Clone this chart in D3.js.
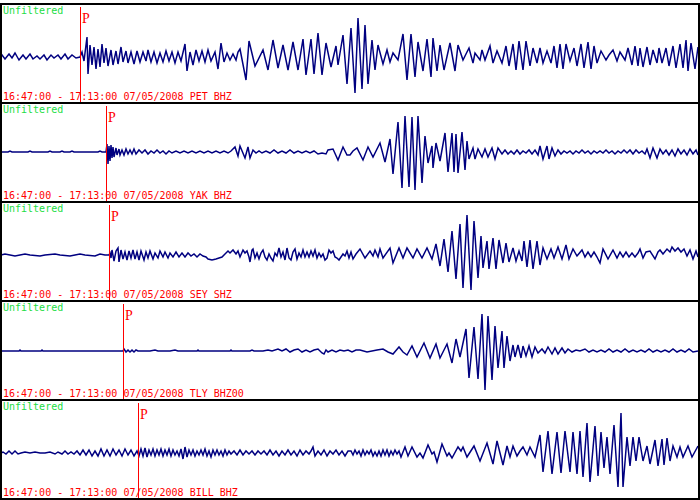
<!DOCTYPE html>
<meta charset="utf-8">
<html>
<head>
<script src="https://cdn.jsdelivr.net/npm/d3@7"></script>
<style>
  body { margin: 0; background: #fff; }
  text { font-family: "DejaVu Sans Mono", monospace; font-size: 10px; }
</style>
</head>
<body>
<svg id="seis" width="700" height="500"></svg>
<script>

// record info
var stations = ["PET BHZ", "YAK BHZ", "SEY SHZ", "TLY BHZ00", "BILL BHZ"];
var timeWindow = "16:47:00 - 17:13:00";
var recordDate = "07/05/2008";
var filterLabel = "Unfiltered";
// P arrival, sample index (~2.23 s per sample over the 26 min window)
var pPicks = [80, 106, 109, 123, 138];
var dcOffsets = [0, 4, 0, 3, 0];

// traces: [sample, counts] at the extremes
var petTrace = [[1,0],[2,2],[5,-2],[9,3],[12,-1],[15,4],[19,-3],[23,2],[26,-2],[30,3],[33,-2],[37,1],[40,-2],[44,2],[47,-3],[51,2],[54,-1],[58,2],[61,-2],[65,3],[68,-2],[72,2],[76,-1],[80,0],
  [82,5],[84,-4],[87,20],[88,-17],[90,12],[92,-8],[94,10],[96,-12],[98,8],[100,-10],[102,13],[104,-6],[106,9],[108,-9],[111,7],[113,-8],[116,6],[118,-7],[121,10],[123,-5],[126,6],[128,-6],[131,5],[134,-7],[137,6],[140,-5],[143,5],
  [146,-4],[148,7],[151,-5],[154,5],[157,-6],[160,4],[163,-5],[166,6],[169,-4],[172,5],[175,-6],[178,5],[181,-4],[185,13],[187,-14],[190,5],[193,-8],[196,7],[199,-4],[202,6],[205,-5],[208,7],[211,-4],[215,5],[218,-12],[221,14],[224,-5],[227,4],[230,-3],[233,3],[236,-3],[238,5],
  [240,8],[246,-23],[249,16],[255,-9],[263,7],[268,-13],[273,17],[278,-11],[283,12],[288,-13],[293,15],[298,-13],[303,18],[306,-18],[311,18],[314,-17],[318,24],[322,-18],[326,14],[331,-10],[336,11],[338,-8],[343,22],[347,-27],[351,29],[355,-36],[358,39],[362,-32],[365,32],[368,-27],[372,17],[375,-13],[378,12],[383,-7],[387,7],[390,-5],[393,4],[398,-3],[403,23],[407,-23],[411,23],[415,-20],[418,15],[423,-14],[427,18],[431,-20],[433,19],[437,-14],[440,12],[444,-13],[450,14],[455,-14],[458,12],[463,-3],[466,3],[469,9],
  [473,-6],[475,4],[480,-3],[482,7],[485,-3],[490,11],[493,-6],[497,6],[502,-6],[506,11],[509,-9],[513,13],[516,-13],[519,16],[523,-13],[526,16],[530,-9],[533,9],[537,-6],[540,9],[543,-6],[547,6],[551,-6],[554,11],[557,-11],[560,13],[563,-12],[566,13],[570,-4],[574,9],[577,-9],[581,13],[584,-11],[588,15],[591,-12],[594,11],[597,-6],[601,6],[606,-3],[609,2],[613,7],[617,-4],[620,5],[625,-3],[628,9],[632,-8],[635,11],[638,-9],[640,9],[643,-10],[647,10],[650,-8],[653,7],[657,-6],[659,9],[662,-6],[666,9],[669,-9],[673,11],[676,-11],[680,13],[683,-11],[686,17],[688,-14],[691,14],[695,-12],[698,10]];

var yakTrace = [[1,0],[8,0],[10,1],[12,0],[28,0],[30,1],[32,0],[48,0],[50,1],[52,0],[60,0],[62,1],[64,0],[70,0],[72,1],[74,0],[98,0],[100,1],[102,0],[106,0],
  [107,8],[108,-12],[109,6],[110,-9],[111,7],[112,-6],[113,5],[114,-5],[116,4],[117,-3],[119,3],[120,-3],[122,2],[124,-3],[126,3],[128,-2],[130,2],[132,-2],[134,3],[136,-2],[139,2],[142,-1],[145,2],[148,-2],[151,1],[154,-1],[157,2],[160,-1],[163,1],[166,-2],[169,1],[172,-1],[176,1],[180,-1],[184,1],[188,-1],[192,1],[196,-1],[200,1],[204,-1],[208,1],[212,-1],[216,1],[220,-1],[224,1],[228,-1],[231,1],
  [235,5],[238,-4],[240,6],[245,-6],[248,5],[250,-6],[253,2],[256,-1],[259,1],[262,-1],[266,1],[270,-1],[274,2],[278,-1],[282,1],[286,-1],[290,2],[294,-1],[298,1],[302,-1],[306,1],[310,-1],[314,1],[318,-2],[322,-1],[326,-2],[328,2],[333,3],[338,-8],[343,5],[347,-3],[350,-3],[353,1],
  [357,4],[363,-8],[368,5],[373,-5],[380,9],[385,-10],[390,13],[393,-22],[398,30],[402,-36],[405,36],[409,-35],[412,35],[415,-38],[418,36],[422,-31],[425,16],[428,-11],[432,6],[433,-16],[436,9],[440,-9],[445,19],[448,-20],[452,19],[454,-20],[456,18],[458,-21],[462,20],[465,-18],[467,11],[469,-7],[473,4],[475,-7],[478,3],[482,-5],[485,3],[488,-5],[492,4],[495,-7],[498,4],[502,-2],
  [505,2],[508,-2],[511,1],[514,-2],[517,2],[520,-2],[523,1],[526,-1],[529,2],[532,-2],[535,2],[538,-3],[540,6],[543,-7],[547,6],[549,-7],[552,4],[555,-4],[558,2],[561,-2],[564,1],[567,-1],[570,1],[573,-2],[576,1],[579,-1],[582,2],[585,-1],[588,1],[591,-2],[594,1],[597,-1],[600,1],[603,-1],[606,2],[609,-1],[612,1],[615,-2],[618,1],[621,-1],[624,2],[627,-1],[630,2],[633,-2],[636,2],[639,-1],[642,1],[645,-2],
  [647,3],[650,-6],[653,4],[657,-6],[660,3],[663,-2],[666,2],[669,-3],[672,2],[675,-4],[678,3],[681,-2],[684,2],[687,-3],[690,3],[693,-2],[696,2],[698,-3]];

var seyTrace = [[1,0],[5,1],[10,0],[15,-1],[20,0],[25,1],[30,0],[40,-1],[45,0],[55,1],[60,0],[70,-1],[75,0],[80,1],[85,0],[95,-1],[100,1],[105,0],[109,0],
  [110,2],[111,-3],[112,5],[114,-6],[116,4],[118,7],[119,-7],[121,5],[123,-4],[125,3],[127,-5],[129,4],[131,-3],[133,5],[135,-4],[137,3],[139,-5],[141,4],[144,-5],[146,3],[148,-3],[150,4],[153,-4],[155,2],[158,-3],[160,4],[163,-2],[165,3],[168,-3],[170,2],[173,-2],[176,3],[179,-2],[182,2],[185,-2],[188,2],[191,-1],[194,1],[197,-2],[200,1],[203,-1],[206,-2],
  [208,-4],[212,-5],[216,-4],[219,-3],[222,-2],[225,1],[228,4],[230,2],[233,5],[236,1],[238,4],[240,-2],[243,5],[245,2],[247,4],[249,-2],[250,-7],[252,5],[253,6],[255,-3],[257,2],[259,-4],[261,2],[263,5],[265,-2],[267,-5],[269,1],[271,-3],[273,-6],[275,2],[277,-1],[279,7],[281,-2],[283,3],[285,-5],[287,7],[289,-3],[291,-5],[293,3],[295,6],[297,-4],[299,2],[301,-2],[303,5],[305,-2],[307,3],[309,-2],[311,4],[313,-1],[315,5],[317,-3],[319,2],[321,-2],[323,1],[325,-5],[327,-3],[329,5],[331,2],[333,4],[335,-2],[337,-3],[339,-5],[341,-2],[343,1],[345,-1],[347,4],[349,-3],[351,3],[353,-4],[356,1],
  [360,6],[365,-3],[370,4],[373,-1],[375,5],[378,-2],[380,6],[383,-3],[390,7],[393,-8],[399,7],[403,-3],[407,7],[413,-3],[417,6],[422,-3],[427,7],[432,-4],[436,11],[440,-11],[444,16],[448,-17],[452,24],[456,-24],[460,31],[463,-33],[467,40],[471,-35],[474,34],[478,-23],[481,19],[483,-13],[487,14],[489,-14],[493,17],[496,-14],[499,15],[503,-8],[506,12],[509,-7],[513,7],[516,-6],[519,4],[522,-6],[524,14],[527,-12],[530,15],[533,-14],[537,14],[540,-10],[543,7],[547,-4],[551,6],[554,-3],[558,8],[562,-4],[566,10],[569,-4],[573,6],[577,-1],[582,5],[585,-2],
  [588,3],[591,-2],[594,3],[597,-2],[600,-8],[603,6],[608,-4],[613,5],[617,-3],[620,3],[623,-2],[626,3],[629,-2],[632,2],[635,-2],[638,2],[640,6],[643,-3],[646,3],[650,4],[655,-4],[658,3],[660,5],[663,1],[667,6],[670,3],[672,8],[675,4],[678,7],[681,3],[684,6],[687,-1],[690,5],[693,-4],[696,4],[698,-2]];

var tlyTrace = [[1,0],[19,0],[20,1],[21,0],[41,0],[42,1],[43,0],[123,0],[124,2],[126,-1],[128,1],[130,-1],[132,1],[134,-1],[136,1],[138,0],[150,0],[155,1],[158,0],[170,0],[175,1],[178,0],[197,0],[198,1],[199,0],[230,0],[231,1],[232,0],[250,0],[252,1],[254,0],[263,0],[268,1],[272,0],[278,2],[282,0],[286,2],[290,-1],[294,1],[298,2],[302,-1],[306,1],[310,-1],[314,1],[318,2],[322,-2],[324,-3],[326,1],[328,-1],[332,1],[336,-1],[340,1],[344,0],[348,1],[352,-1],[356,1],
  [360,1],[367,-1],[377,1],[383,2],[388,-1],[393,-3],[399,4],[403,-1],[407,-4],[412,5],[417,-6],[424,8],[430,-7],[436,7],[440,-7],[447,7],[452,-12],[456,12],[460,-6],[466,22],[469,-27],[474,24],[478,-28],[482,37],[485,-39],[488,35],[492,-29],[495,25],[498,-17],[502,20],[504,-17],[507,15],[510,-10],[513,6],[515,-6],[518,6],[521,-7],[523,5],[526,-5],[529,5],[532,-6],[535,4],[538,-2],[542,2],[545,-2],[548,4],[552,-3],[555,3],[558,-3],[562,3],[565,-2],[568,2],
  [572,-1],[576,1],[580,0],[585,2],[589,-1],[593,1],[597,-1],[601,1],[605,-1],[609,2],[613,-1],[617,1],[621,-1],[625,2],[629,-1],[633,1],[637,-1],[641,1],[645,-1],[649,2],[653,-1],[657,1],[661,-1],[665,1],[669,-1],[673,2],[677,-1],[681,1],[685,-1],[689,2],[693,-1],[698,0]];

var billTrace = [[1,0],[3,1],[6,-1],[9,2],[12,-1],[15,2],[18,-1],[21,0],[25,1],[30,0],[35,1],[40,0],[45,0],[50,1],[55,-1],[58,1],[62,-1],[65,2],[68,-1],[71,1],[74,-1],[77,2],[80,-2],[83,3],[86,-2],[89,3],[92,-3],[95,2],[98,-3],[101,4],[104,-3],[107,3],[110,-3],[113,4],[116,-2],[119,3],[122,-3],[125,4],[128,-2],[131,3],[134,-3],[137,2],
  [139,-3],[141,4],[143,-3],[145,5],[147,-4],[149,3],[151,-2],[153,4],[155,-3],[157,3],[159,-2],[161,4],[163,-3],[165,3],[167,-2],[169,4],[171,-3],[173,3],[175,-2],[177,2],[179,-3],[181,4],[183,-6],[185,6],[187,-4],[189,3],[191,-2],[193,3],[195,-3],[197,2],[199,-2],[201,3],[203,-2],[205,4],[207,-3],[209,2],[211,-4],[213,3],[215,-2],[217,3],[219,-2],[221,2],[223,-3],[225,3],[227,-2],[229,2],[231,-1],[234,2],[237,-2],[240,3],[243,-2],[246,2],[249,-1],[252,2],[255,-2],[258,2],[261,-1],[264,2],[267,-2],[270,3],[273,-2],[276,2],[279,-3],[282,2],[285,-2],[288,3],[291,-2],[294,2],[297,-3],[300,3],[303,-2],[306,2],[309,-1],[311,2],[313,6],[315,-3],[318,2],[321,-2],[324,3],[327,-3],[330,2],[333,-1],[336,3],[339,-2],[342,2],[345,-3],[348,2],
  [351,2],[353,-2],[355,3],[357,-1],[359,2],[361,-3],[363,3],[365,-2],[367,2],[369,-1],[371,3],[373,-3],[375,1],[377,-3],[379,2],[381,-3],[383,3],[385,-2],[387,3],[389,-3],[391,2],[393,-2],[395,3],[397,-1],[399,2],[401,-4],[403,1],[405,6],[408,-3],[412,6],[417,-4],[420,0],[423,-5],[428,8],[432,-1],[434,1],[437,-9],[442,9],[447,-3],[449,0],[452,-5],[458,6],[461,2],[463,6],[467,-4],[474,7],[480,-8],[487,10],[493,-11],[497,12],[503,-12],[507,7],[510,-4],[513,7],[517,-3],[520,2],[523,6],[527,-2],[530,6],[535,-4],
  [540,18],[543,-19],[548,22],[552,-21],[557,21],[561,-20],[565,22],[570,-19],[573,21],[577,-21],[580,22],[583,-24],[587,30],[590,-29],[595,27],[598,-23],[601,21],[604,-15],[607,16],[610,-21],[614,28],[618,-34],[621,40],[623,-34],[627,16],[630,-13],[633,16],[636,-8],[639,16],[643,-8],[647,7],[650,-11],[655,13],[658,-13],[662,14],[664,-12],[667,15],[670,-8],[673,7],[677,-4],[680,6],[683,-4],[688,7],[692,-4],[698,7]];

var traces = [petTrace, yakTrace, seyTrace, tlyTrace, billTrace];

var svg = d3.select("#seis"),
  width = +svg.attr("width");

var panelH = 99, firstTop = 4;

// sample index -> pixel
var x = d3.scaleLinear().domain([0, 700]).range([0, 700]);

stations.forEach(function(name, i) {
  var top = firstTop + i * panelH;
  var y = d3.scaleLinear().domain([-50, 50]).range([top + 103, top + 3]);
  var off = dcOffsets[i];

  var g = svg.append("g");

  // trace
  var line = d3.line()
    .x(function(d) { return x(d[0]); })
    .y(function(d) { return y(d[1] + off); });

  g.append("path")
    .datum(traces[i])
    .attr("d", line)
    .attr("fill", "none")
    .attr("stroke", "#000080")
    .attr("stroke-width", 1.5);

  // P pick
  g.append("line")
    .attr("x1", Math.round(x(pPicks[i])) + 0.5)
    .attr("x2", Math.round(x(pPicks[i])) + 0.5)
    .attr("y1", top + 3)
    .attr("y2", top + panelH)
    .attr("stroke", "#ff0000")
    .attr("stroke-width", 1);

  g.append("text")
    .attr("x", x(pPicks[i]) + 2)
    .attr("y", top + 19)
    .style("font-family", "'Liberation Serif', serif")
    .style("font-size", "14px")
    .attr("fill", "#ff0000")
    .text("P");

  g.append("text")
    .attr("x", 3)
    .attr("y", top + 10)
    .attr("fill", "#22dd44")
    .text(filterLabel);

  g.append("text")
    .attr("x", 3)
    .attr("y", top + 96)
    .attr("fill", "#ff0000")
    .text(timeWindow + " " + recordDate + " " + name);

  // frame
  g.append("rect")
    .attr("x", 1)
    .attr("y", top)
    .attr("width", width - 2)
    .attr("height", panelH)
    .attr("fill", "none")
    .attr("stroke", "#000")
    .attr("stroke-width", 2)
    .attr("shape-rendering", "crispEdges");
});

</script>
</body>
</html>
